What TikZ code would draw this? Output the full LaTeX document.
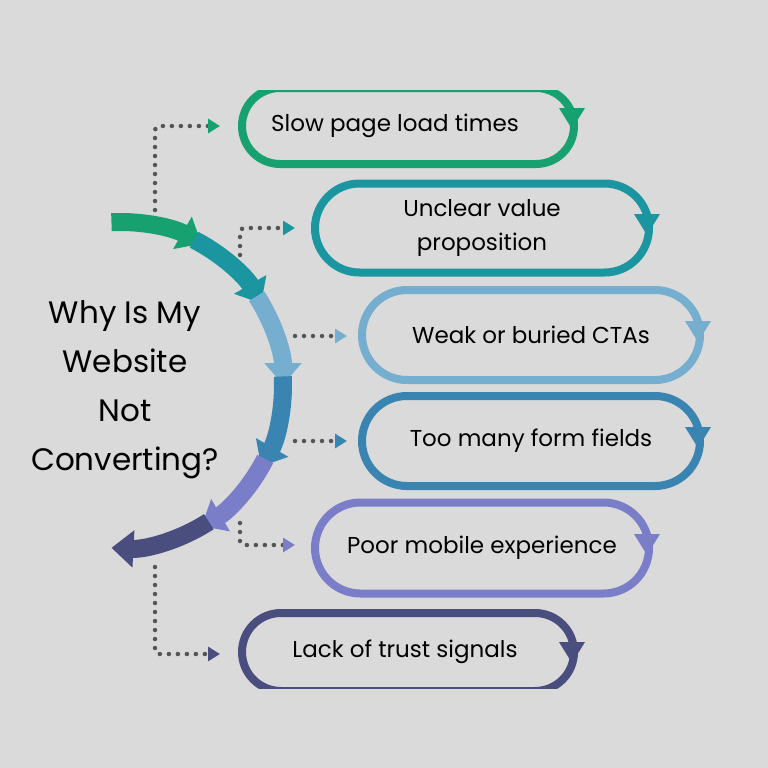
\documentclass[tikz,border=0pt]{standalone}
\usepackage{fontspec}
\setmainfont{Poppins}
\usetikzlibrary{arrows.meta,positioning,shapes.misc}
\definecolor{bg}{HTML}{DADADA}
\definecolor{cA}{HTML}{17A070}
\definecolor{cB}{HTML}{1B96A0}
\definecolor{cC}{HTML}{75AECF}
\definecolor{cD}{HTML}{3A84B2}
\definecolor{cE}{HTML}{7A7EC8}
\definecolor{cF}{HTML}{4A4E7E}
\definecolor{dots}{HTML}{555555}
\tikzset{
  pill/.style={draw=#1, line width=8pt, rounded rectangle, inner sep=0pt,
    align=center, font=\fontsize{23}{34}\selectfont, text=black},
  link/.style={dots, line width=4.5pt, line cap=round, dash pattern=on 0pt off 9pt,
    rounded corners=4pt, -{Triangle[color=#1, width=14pt, length=12pt]}},
  seg/.style={#1, line width=18pt, -{Triangle[width=36pt, length=22pt]}}
}
\begin{document}
\begin{tikzpicture}[x=1pt,y=-1pt]
	\newcommand\Tip{++(-13,-12) -- ++(26,0) -- ++(-13,21) -- cycle}

	\fill[bg] (0,0) rectangle (768,768);
	\useasboundingbox (0,0) rectangle (768,768);

	% capsules
	\begin{scope}
		\clip (0,90) rectangle (768,688);
		\node[pill=cA, minimum width=332pt, minimum height=76pt] (cap1) at (408,126) {Slow page load times\hspace*{26pt}};
		\node[pill=cB, minimum width=334pt, minimum height=89pt] (cap2) at (482,228) {Unclear value\\proposition};
		\node[pill=cC, minimum width=338pt, minimum height=90pt] (cap3) at (531,335) {Weak or buried CTAs};
		\node[pill=cD, minimum width=338pt, minimum height=90pt] (cap4) at (531,441) {Too many form fields};
		\node[pill=cE, minimum width=334pt, minimum height=91pt] (cap5) at (482,548) {Poor mobile experience};
		\node[pill=cF, minimum width=332pt, minimum height=78pt] (cap6) at (408,652) {Lack of trust signals\hspace*{6pt}};
	\end{scope}

	\fill[cA] ([shift={(-6,-6)}]cap1.east) \Tip;
	\fill[cB] ([shift={(-6,-2)}]cap2.east) \Tip;
	\fill[cC] ([shift={(-6,-2)}]cap3.east) \Tip;
	\fill[cD] ([shift={(-6,-2)}]cap4.east) \Tip;
	\fill[cE] ([shift={(-6,-2)}]cap5.east) \Tip;
	\fill[cF] ([shift={(-6,2)}]cap6.east) \Tip;

	% circular arrow
	\coordinate (hub) at (120,385);
	\draw[seg=cA] ([shift={(-93:163)}]hub) arc[start angle=-93, end angle=-60, radius=163];
	\draw[seg=cB] ([shift={(-63:163)}]hub) arc[start angle=-63, end angle=-30, radius=163];
	\draw[seg=cC] ([shift={(-33:163)}]hub) arc[start angle=-33, end angle=0, radius=163];
	\draw[seg=cD] ([shift={(-3:163)}]hub) arc[start angle=-3, end angle=30, radius=163];
	\draw[seg=cE] ([shift={(27:163)}]hub) arc[start angle=27, end angle=60, radius=163];
	\draw[seg=cF] ([shift={(57:163)}]hub) arc[start angle=57, end angle=93, radius=163];

	\node[align=center, font=\fontsize{31}{49}\selectfont] (title) at (125,390)
		{Why Is My\\Website\\Not\\Converting?};

	% connectors
	\coordinate (s1) at (155,210);
	\coordinate (s2) at (240,255);
	\coordinate (s3) at (295,336);
	\coordinate (s4) at (295,441);
	\coordinate (s5) at (240,523);
	\coordinate (s6) at (155,567);
	\draw[link=cA, shorten >=18pt] (s1) |- (cap1.west);
	\draw[link=cB, shorten >=16pt] (s2) |- (cap2.west);
	\draw[link=cC, shorten >=11pt] (s3) -- (cap3.west |- s3);
	\draw[link=cD, shorten >=11pt] (s4) -- (cap4.west |- s4);
	\draw[link=cE, shorten >=16pt] (s5) |- ([yshift=3pt]cap5.west);
	\draw[link=cF, shorten >=18pt] (s6) |- ([yshift=-2pt]cap6.west);
\end{tikzpicture}
\end{document}
